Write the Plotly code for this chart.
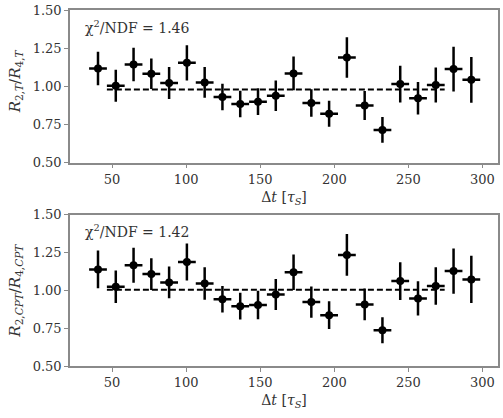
import plotly.graph_objects as go
from plotly.subplots import make_subplots

dt = [40.5, 52.5, 64.5, 76.5, 88.5, 100.5, 112.5, 124.5, 136.5, 148.5, 160.5,
      172.5, 184.5, 196.5, 208.5, 220.5, 232.5, 244.5, 256.5, 268.5, 280.5, 292.5]
dt_err = [6.0] * len(dt)

r_t = [1.117, 1.004, 1.143, 1.083, 1.022, 1.154, 1.026, 0.930, 0.885, 0.900, 0.939,
       1.085, 0.891, 0.820, 1.189, 0.874, 0.715, 1.015, 0.922, 1.009, 1.113, 1.043]
r_t_err = [0.11, 0.105, 0.11, 0.10, 0.105, 0.115, 0.10, 0.087, 0.087, 0.087, 0.10,
           0.11, 0.09, 0.085, 0.133, 0.095, 0.084, 0.12, 0.107, 0.115, 0.147, 0.15]

r_cpt = [1.139, 1.024, 1.166, 1.108, 1.053, 1.188, 1.046, 0.942, 0.896, 0.903, 0.973,
         1.120, 0.923, 0.836, 1.235, 0.907, 0.737, 1.062, 0.947, 1.029, 1.128, 1.073]
r_cpt_err = [0.125, 0.107, 0.116, 0.105, 0.105, 0.122, 0.107, 0.088, 0.088, 0.094, 0.103,
             0.117, 0.103, 0.092, 0.138, 0.105, 0.086, 0.125, 0.113, 0.124, 0.15, 0.156]

fit_x = [46.5, 274.5]
fit_t = 0.98
fit_cpt = 1.005
chi_t = "1.46"
chi_cpt = "1.42"

yticks = [0.50, 0.75, 1.00, 1.25, 1.50]
xticks = [50, 100, 150, 200, 250, 300]

FONT = "DejaVu Serif"
TXT = "#333333"
FRAME = "#8a8a8a"

fig = make_subplots(rows=2, cols=1, vertical_spacing=0.0)
fig.update_layout(
    yaxis=dict(domain=[0.571, 1.0]),
    yaxis2=dict(domain=[0.0, 0.4246]),
)

ytitles = ["<i>R</i><sub>2,<i>T</i></sub>/<i>R</i><sub>4,<i>T</i></sub>",
           "<i>R</i><sub>2,<i>CPT</i></sub>/<i>R</i><sub>4,<i>CPT</i></sub>"]
ytitle_pos = [0.535, 0.50]

for row, (yv, ye, fit, chi) in enumerate(
        [(r_t, r_t_err, fit_t, chi_t), (r_cpt, r_cpt_err, fit_cpt, chi_cpt)], start=1):
    fig.add_trace(go.Scatter(
        x=fit_x, y=[fit, fit], mode="lines",
        line=dict(color="black", width=2, dash="6px,3px"),
        showlegend=False, hoverinfo="skip"), row=row, col=1)
    fig.add_trace(go.Scatter(
        x=dt, y=yv, mode="markers",
        marker=dict(color="black", size=8, symbol="circle"),
        error_y=dict(type="data", array=ye, color="black", thickness=2.5, width=0),
        error_x=dict(type="data", array=dt_err, color="black", thickness=2.5, width=0),
        showlegend=False), row=row, col=1)
    xa = "x domain" if row == 1 else "x2 domain"
    ya = "y domain" if row == 1 else "y2 domain"
    fig.add_annotation(
        xref=xa, yref=ya, x=0.03, y=0.89, xanchor="left", yanchor="middle",
        text="χ<sup>2</sup>/NDF = " + chi, showarrow=False,
        font=dict(family=FONT, size=14, color=TXT))
    fig.add_annotation(
        xref="paper", yref=ya, x=-0.128, y=ytitle_pos[row - 1],
        xanchor="center", yanchor="middle", textangle=-90,
        text=ytitles[row - 1], showarrow=False,
        font=dict(family=FONT, size=15, color=TXT))

axis_common = dict(
    showline=True, linecolor=FRAME, linewidth=1.5, mirror=True,
    ticks="outside", ticklen=4, tickwidth=1.2, tickcolor=FRAME,
    showgrid=False, zeroline=False,
    tickfont=dict(family=FONT, size=13, color=TXT),
)

xtitle = "Δ<i>t</i> [<i>τ</i><sub><i>S</i></sub>]"
for r in (1, 2):
    fig.update_xaxes(range=[21.6, 310.5], tickvals=xticks, ticktext=[str(v) for v in xticks],
                     title=dict(text=xtitle, font=dict(family=FONT, size=14, color=TXT), standoff=6),
                     row=r, col=1, **axis_common)
    fig.update_yaxes(range=[0.5, 1.5], tickvals=yticks, ticktext=["%.2f" % v for v in yticks],
                     row=r, col=1, **axis_common)

fig.update_layout(
    width=503, height=418,
    margin=dict(l=70, r=3, t=8, b=52),
    paper_bgcolor="white", plot_bgcolor="white",
)

fig.write_html("out.html")
